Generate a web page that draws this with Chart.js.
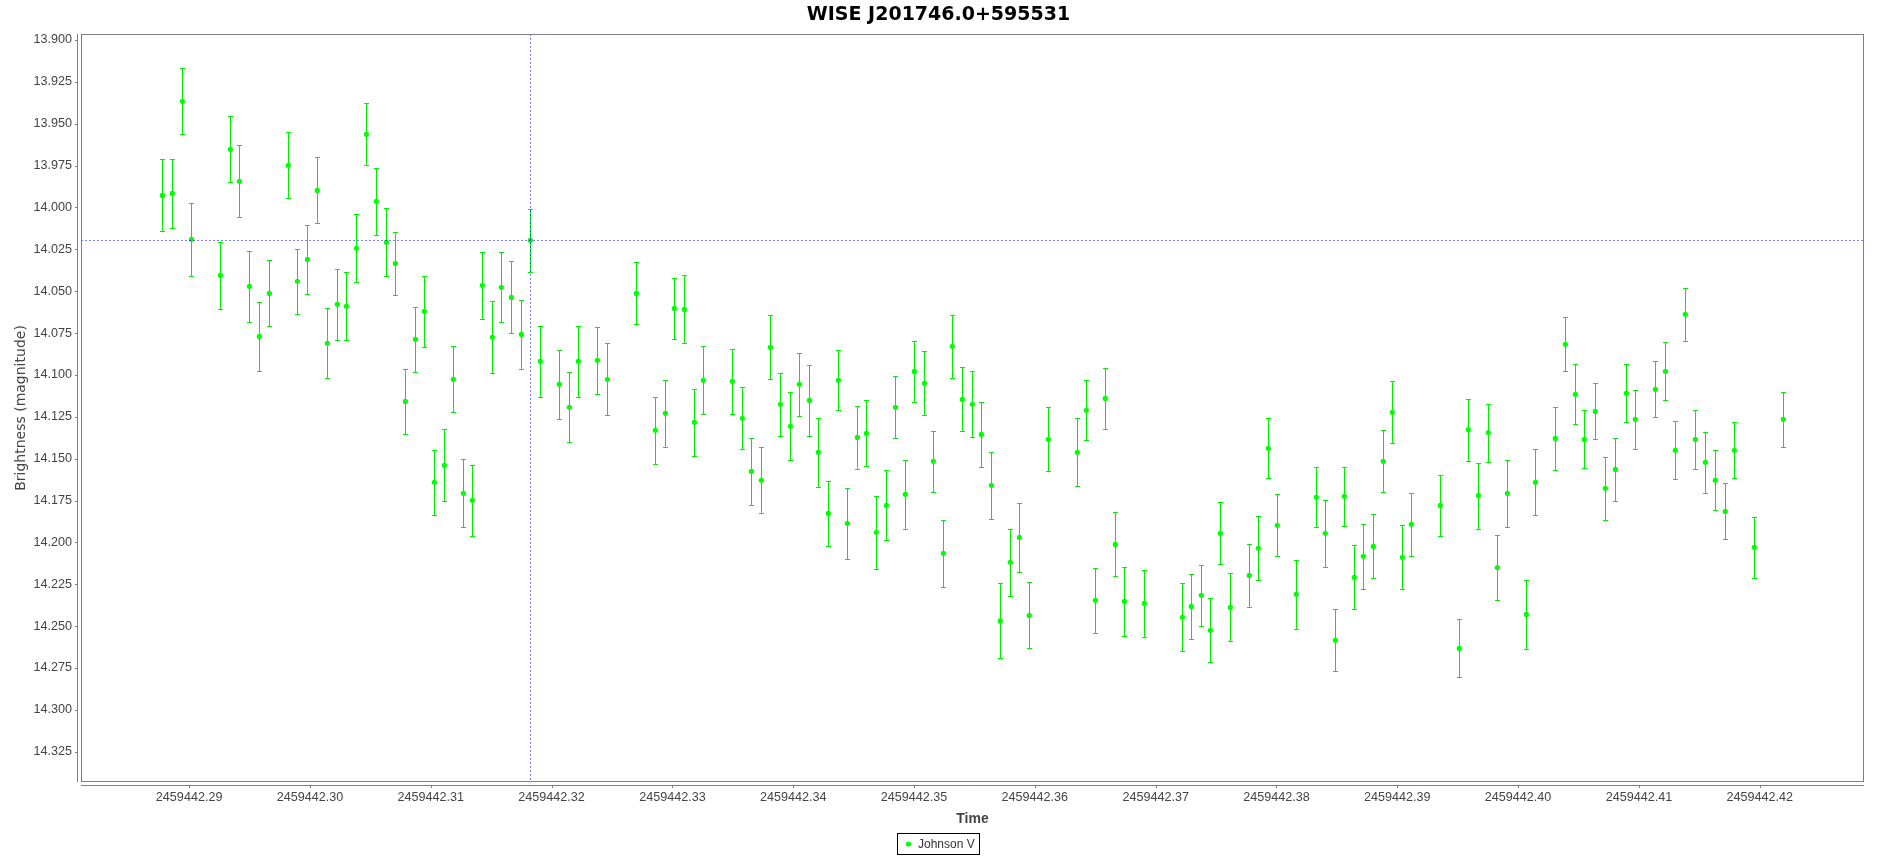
<!DOCTYPE html>
<html>
<head>
<meta charset="utf-8">
<title>WISE J201746.0+595531</title>
<script src="https://cdn.jsdelivr.net/npm/chart.js@4.4.1/dist/chart.umd.min.js"></script>
<style>
  html, body { margin: 0; padding: 0; background: #fff; }
  canvas { display: block; }
</style>
</head>
<body>
<canvas id="lightcurve" width="1877" height="856"></canvas>
<script>
// Light curve — JFreeChart look-alike: magnitude vs JD with error bars
const chartTitle = 'WISE J201746.0+595531';
const seriesName = 'Johnson V';
const xAxisTitle = 'Time';
const yAxisTitle = 'Brightness (magnitude)';

// observation times (JD)
const jd = [
  2459442.28779, 2459442.28861, 2459442.28944, 2459442.29019, 2459442.29259, 2459442.29341, 2459442.29416,
  2459442.29499, 2459442.29581, 2459442.29664, 2459442.29821, 2459442.29896, 2459442.29979, 2459442.30061,
  2459442.30144, 2459442.30227, 2459442.30301, 2459442.30384, 2459442.30467, 2459442.30550, 2459442.30633,
  2459442.30707, 2459442.30790, 2459442.30873, 2459442.30947, 2459442.31030, 2459442.31113, 2459442.31187,
  2459442.31270, 2459442.31344, 2459442.31427, 2459442.31510, 2459442.31584, 2459442.31667, 2459442.31750,
  2459442.31824, 2459442.31907, 2459442.32064, 2459442.32147, 2459442.32222, 2459442.32379, 2459442.32462,
  2459442.32702, 2459442.32859, 2459442.32942, 2459442.33016, 2459442.33099, 2459442.33182, 2459442.33256,
  2459442.33496, 2459442.33579, 2459442.33654, 2459442.33736, 2459442.33811, 2459442.33894, 2459442.33977,
  2459442.34051, 2459442.34134, 2459442.34208, 2459442.34291, 2459442.34374, 2459442.34448, 2459442.34531,
  2459442.34606, 2459442.34688, 2459442.34771, 2459442.34846, 2459442.34928, 2459442.35003, 2459442.35086,
  2459442.35160, 2459442.35243, 2459442.35317, 2459442.35400, 2459442.35483, 2459442.35557, 2459442.35640,
  2459442.35714, 2459442.35797, 2459442.35872, 2459442.35954, 2459442.36112, 2459442.36352, 2459442.36426,
  2459442.36501, 2459442.36583, 2459442.36666, 2459442.36741, 2459442.36906, 2459442.37221, 2459442.37295,
  2459442.37378, 2459442.37453, 2459442.37535, 2459442.37618, 2459442.37775, 2459442.37850, 2459442.37933,
  2459442.38007, 2459442.38164, 2459442.38330, 2459442.38404, 2459442.38487, 2459442.38562, 2459442.38644,
  2459442.38719, 2459442.38802, 2459442.38884, 2459442.38959, 2459442.39042, 2459442.39116, 2459442.39356,
  2459442.39513, 2459442.39588, 2459442.39671, 2459442.39754, 2459442.39828, 2459442.39911, 2459442.40068,
  2459442.40143, 2459442.40308, 2459442.40391, 2459442.40474, 2459442.40548, 2459442.40639, 2459442.40722,
  2459442.40805, 2459442.40896, 2459442.40970, 2459442.41136, 2459442.41219, 2459442.41301, 2459442.41384,
  2459442.41467, 2459442.41550, 2459442.41632, 2459442.41715, 2459442.41790, 2459442.41955, 2459442.42195
];

// V magnitudes
const mag = [
  13.9928, 13.9916, 13.9366, 14.0190, 14.0405, 13.9653, 13.9844,
  14.0471, 14.0770, 14.0513, 13.9748, 14.0441, 14.0310, 13.9898,
  14.0811, 14.0578, 14.0590, 14.0244, 13.9563, 13.9963, 14.0208,
  14.0334, 14.1158, 14.0787, 14.0620, 14.1641, 14.1540, 14.1026,
  14.1707, 14.1749, 14.0465, 14.0775, 14.0477, 14.0537, 14.0758,
  14.0196, 14.0919, 14.1056, 14.1193, 14.0919, 14.0913, 14.1026,
  14.0513, 14.1331, 14.1229, 14.0603, 14.0609, 14.1283, 14.1032,
  14.1038, 14.1259, 14.1576, 14.1629, 14.0835, 14.1175, 14.1307,
  14.1056, 14.1152, 14.1462, 14.1827, 14.1032, 14.1886, 14.1373,
  14.1349, 14.1940, 14.1779, 14.1193, 14.1713, 14.0979, 14.1050,
  14.1516, 14.2065, 14.0829, 14.1146, 14.1175, 14.1355, 14.1659,
  14.2469, 14.2119, 14.1970, 14.2436, 14.1384, 14.1462, 14.1211,
  14.2346, 14.1140, 14.2012, 14.2352, 14.2364, 14.2447, 14.2382,
  14.2316, 14.2525, 14.1946, 14.2388, 14.2197, 14.2035, 14.1438,
  14.1898, 14.2310, 14.1731, 14.1946, 14.2585, 14.1725, 14.2209,
  14.2083, 14.2024, 14.1516, 14.1223, 14.2089, 14.1892, 14.1779,
  14.2633, 14.1326, 14.1720, 14.1344, 14.2150, 14.1707, 14.2430,
  14.1641, 14.1379, 14.0817, 14.1116, 14.1385, 14.1218, 14.1677,
  14.1564, 14.1110, 14.1265, 14.1086, 14.0978, 14.1450, 14.0638,
  14.1385, 14.1522, 14.1629, 14.1815, 14.1450, 14.2029, 14.1265
];

// 1-sigma errors
const magErr = [
  0.0215, 0.0206, 0.0196, 0.0217, 0.0200, 0.0197, 0.0215,
  0.0212, 0.0206, 0.0197, 0.0196, 0.0194, 0.0206, 0.0197,
  0.0209, 0.0212, 0.0203, 0.0203, 0.0185, 0.0200, 0.0202,
  0.0188, 0.0194, 0.0194, 0.0212, 0.0193, 0.0215, 0.0197,
  0.0203, 0.0212, 0.0200, 0.0214, 0.0209, 0.0215, 0.0206,
  0.0188, 0.0214, 0.0205, 0.0209, 0.0214, 0.0202, 0.0214,
  0.0185, 0.0199, 0.0199, 0.0182, 0.0203, 0.0200, 0.0203,
  0.0194, 0.0185, 0.0200, 0.0197, 0.0191, 0.0188, 0.0203,
  0.0188, 0.0212, 0.0206, 0.0194, 0.0179, 0.0212, 0.0188,
  0.0197, 0.0218, 0.0209, 0.0185, 0.0206, 0.0182, 0.0191,
  0.0182, 0.0200, 0.0188, 0.0191, 0.0197, 0.0194, 0.0200,
  0.0224, 0.0200, 0.0206, 0.0197, 0.0191, 0.0203, 0.0179,
  0.0194, 0.0182, 0.0191, 0.0206, 0.0200, 0.0203, 0.0194,
  0.0182, 0.0191, 0.0185, 0.0203, 0.0188, 0.0191, 0.0179,
  0.0185, 0.0206, 0.0179, 0.0200, 0.0185, 0.0176, 0.0191,
  0.0194, 0.0191, 0.0185, 0.0185, 0.0191, 0.0188, 0.0182,
  0.0173, 0.0185, 0.0197, 0.0173, 0.0194, 0.0200, 0.0206,
  0.0197, 0.0188, 0.0161, 0.0179, 0.0173, 0.0167, 0.0188,
  0.0188, 0.0173, 0.0176, 0.0167, 0.0173, 0.0173, 0.0158,
  0.0176, 0.0182, 0.0179, 0.0167, 0.0167, 0.0182, 0.0164
];

const xTicks = [
  2459442.29, 2459442.30, 2459442.31, 2459442.32, 2459442.33, 2459442.34, 2459442.35,
  2459442.36, 2459442.37, 2459442.38, 2459442.39, 2459442.40, 2459442.41, 2459442.42
];
const yTicks = [
  13.900, 13.925, 13.950, 13.975, 14.000, 14.025, 14.050, 14.075, 14.100,
  14.125, 14.150, 14.175, 14.200, 14.225, 14.250, 14.275, 14.300, 14.325
];
const xRange = [2459442.28105, 2459442.42863];
const yRange = [13.89642, 14.34307];
const crosshairIndex = 35; // selected observation

const GREEN = '#00ff00';
const BAR_GREEN = '#00ee00';
const AXIS_GRAY = '#808080';
const TEXT_GRAY = '#444444';

// plot frame inside the canvas (px)
const frame = { left: 81, top: 34, right: 1864, bottom: 782 };

/** error bars, crosshair, axis lines, titles and legend */
const jfreeLook = {
  id: 'jfreeLook',
  beforeDraw(chart) {
    const { ctx } = chart;
    ctx.save();
    ctx.fillStyle = '#fff';
    ctx.fillRect(0, 0, chart.width, chart.height);
    ctx.restore();
  },
  beforeDatasetsDraw(chart) {
    const { ctx } = chart;
    const xs = chart.scales.x, ys = chart.scales.y;
    ctx.save();
    ctx.strokeStyle = BAR_GREEN;
    ctx.lineWidth = 1;
    ctx.beginPath();
    jd.forEach((t, i) => {
      const px = Math.round(xs.getPixelForValue(t)) + 0.5;
      const yTop = Math.round(ys.getPixelForValue(mag[i] - magErr[i])) + 0.5;
      const yBot = Math.round(ys.getPixelForValue(mag[i] + magErr[i])) + 0.5;
      ctx.moveTo(px, yTop); ctx.lineTo(px, yBot);
      ctx.moveTo(px - 2.5, yTop); ctx.lineTo(px + 2.5, yTop);
      ctx.moveTo(px - 2.5, yBot); ctx.lineTo(px + 2.5, yBot);
    });
    ctx.stroke();
    ctx.restore();
  },
  afterDatasetsDraw(chart) {
    const { ctx, chartArea: a } = chart;
    const xs = chart.scales.x, ys = chart.scales.y;
    const cx = Math.round(xs.getPixelForValue(jd[crosshairIndex])) + 0.5;
    const cy = Math.round(ys.getPixelForValue(mag[crosshairIndex])) + 0.5;
    ctx.save();
    ctx.strokeStyle = 'rgba(0,0,255,0.5)';
    ctx.lineWidth = 1;
    ctx.setLineDash([2, 2]);
    ctx.beginPath();
    ctx.moveTo(cx, a.top); ctx.lineTo(cx, a.bottom);
    ctx.moveTo(a.left, cy); ctx.lineTo(a.right, cy);
    ctx.stroke();
    ctx.restore();
  },
  afterDraw(chart) {
    const { ctx, chartArea: a } = chart;
    const xs = chart.scales.x, ys = chart.scales.y;
    ctx.save();

    // plot outline
    ctx.strokeStyle = AXIS_GRAY;
    ctx.lineWidth = 1;
    ctx.strokeRect(a.left + 0.5, a.top + 0.5, a.right - a.left - 1, a.bottom - a.top - 1);

    // axis lines (offset from the plot like JFreeChart) + tick marks
    ctx.beginPath();
    ctx.moveTo(a.left - 3.5, a.top); ctx.lineTo(a.left - 3.5, a.bottom);
    yTicks.forEach(v => {
      const py = Math.round(ys.getPixelForValue(v)) + 0.5;
      ctx.moveTo(a.left - 6, py); ctx.lineTo(a.left - 3.5, py);
    });
    ctx.moveTo(a.left, a.bottom + 3.5); ctx.lineTo(a.right, a.bottom + 3.5);
    xTicks.forEach(v => {
      const px = Math.round(xs.getPixelForValue(v)) + 0.5;
      ctx.moveTo(px, a.bottom + 3.5); ctx.lineTo(px, a.bottom + 6);
    });
    ctx.stroke();

    // chart title
    ctx.fillStyle = '#000';
    ctx.font = 'bold 19px "DejaVu Sans"';
    ctx.textAlign = 'center';
    ctx.textBaseline = 'alphabetic';
    ctx.fillText(chartTitle, chart.width / 2, 20);

    // axis titles
    ctx.fillStyle = TEXT_GRAY;
    ctx.font = 'bold 14px "Liberation Sans"';
    ctx.fillText(xAxisTitle, (a.left + a.right) / 2, 823);
    ctx.save();
    ctx.translate(25, (a.top + a.bottom) / 2);
    ctx.rotate(-Math.PI / 2);
    ctx.font = '14px "DejaVu Sans"';
    ctx.fillText(yAxisTitle, 0, 0);
    ctx.restore();

    // legend
    ctx.strokeStyle = '#000';
    ctx.strokeRect(897.5, 833.5, 82, 21);
    ctx.fillStyle = GREEN;
    ctx.beginPath();
    ctx.arc(908.5, 844, 2.6, 0, Math.PI * 2);
    ctx.fill();
    ctx.fillStyle = '#333';
    ctx.font = '12px "Liberation Sans"';
    ctx.textAlign = 'left';
    ctx.textBaseline = 'middle';
    ctx.fillText(seriesName, 918, 844.5);

    ctx.restore();
  }
};

const canvas = document.getElementById('lightcurve');
new Chart(canvas, {
  type: 'scatter',
  data: {
    datasets: [{
      label: seriesName,
      data: jd.map((x, i) => ({ x, y: mag[i] })),
      pointRadius: 2.6,
      pointBackgroundColor: GREEN,
      pointBorderWidth: 0,
      showLine: false
    }]
  },
  options: {
    responsive: false,
    devicePixelRatio: 1,
    animation: false,
    events: [],
    layout: {
      padding: { left: 0, top: frame.top, right: 1877 - frame.right, bottom: 0 }
    },
    plugins: {
      legend: { display: false },
      title: { display: false },
      tooltip: { enabled: false }
    },
    scales: {
      x: {
        type: 'linear',
        min: xRange[0],
        max: xRange[1],
        grid: { display: false, drawTicks: false },
        border: { display: false },
        ticks: {
          color: TEXT_GRAY,
          font: { family: 'Liberation Sans', size: 12.6 },
          padding: 8,
          maxRotation: 0,
          autoSkip: false,
          callback: v => Number(v).toFixed(2)
        },
        afterBuildTicks: s => { s.ticks = xTicks.map(value => ({ value })); },
        afterFit: s => { s.height = 856 - frame.bottom; }
      },
      y: {
        type: 'linear',
        reverse: true,
        min: yRange[0],
        max: yRange[1],
        grid: { display: false, drawTicks: false },
        border: { display: false },
        ticks: {
          color: TEXT_GRAY,
          font: { family: 'Liberation Sans', size: 12.6 },
          padding: 9,
          autoSkip: false,
          callback: v => Number(v).toFixed(3)
        },
        afterBuildTicks: s => { s.ticks = yTicks.map(value => ({ value })); },
        afterFit: s => { s.width = frame.left; }
      }
    }
  },
  plugins: [jfreeLook]
});
</script>
</body>
</html>
